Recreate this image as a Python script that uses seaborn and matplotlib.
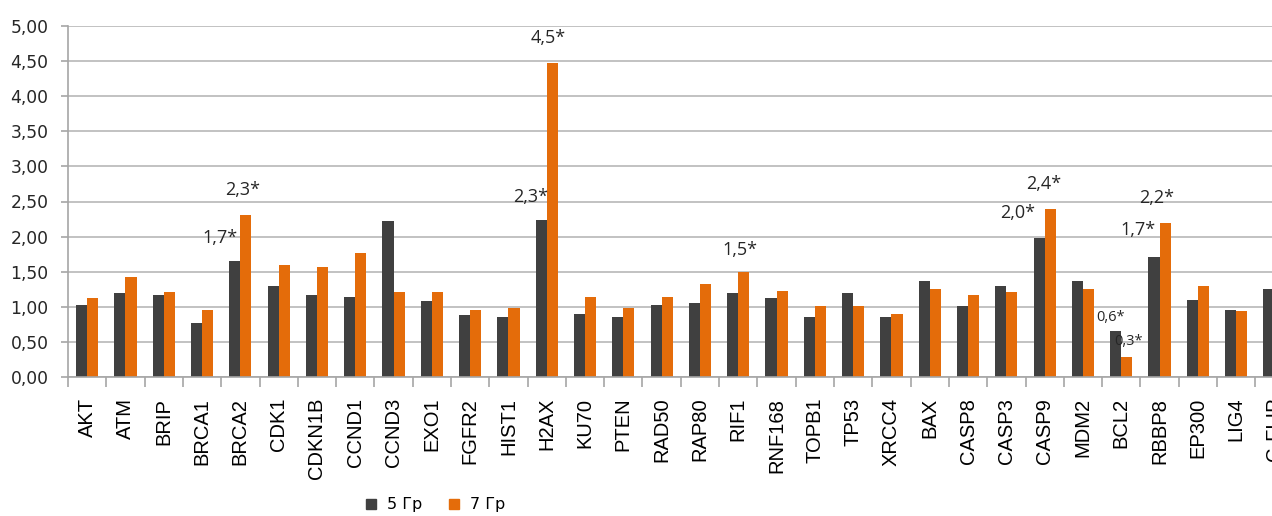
import numpy as np
import pandas as pd
import matplotlib
matplotlib.use("Agg")
import matplotlib.pyplot as plt
import seaborn as sns
from matplotlib.lines import Line2D

genes = ["AKT", "ATM", "BRIP", "BRCA1", "BRCA2", "CDK1", "CDKN1B", "CCND1", "CCND3",
         "EXO1", "FGFR2", "HIST1", "H2AX", "KU70", "PTEN", "RAD50", "RAP80", "RIF1",
         "RNF168", "TOPB1", "TP53", "XRCC4", "BAX", "CASP8", "CASP3", "CASP9", "MDM2",
         "BCL2", "RBBP8", "EP300", "LIG4", "C-FLIP"]
gy5 = [1.03, 1.19, 1.17, 0.77, 1.65, 1.30, 1.17, 1.14, 2.22,
       1.08, 0.88, 0.85, 2.24, 0.90, 0.86, 1.03, 1.05, 1.19,
       1.12, 0.86, 1.19, 0.85, 1.37, 1.01, 1.29, 1.98, 1.37,
       0.65, 1.71, 1.10, 0.95, 1.26]
gy7 = [1.12, 1.43, 1.21, 0.95, 2.31, 1.60, 1.56, 1.76, 1.21,
       1.21, 0.95, 0.99, 4.47, 1.14, 0.98, 1.14, 1.32, 1.49,
       1.23, 1.01, 1.01, 0.90, 1.25, 1.17, 1.21, 2.40, 1.25,
       0.29, 2.20, 1.29, 0.94, 0.79]
series = ["5 Гр", "7 Гр"]
y_ticks = [0, 0.5, 1, 1.5, 2, 2.5, 3, 3.5, 4, 4.5, 5]
# (gene, series index, text, dx px, dy px, small)
notes = [("BRCA2", 1, "2,3*", -3, 25, False), ("BRCA2", 0, "1,7*", -15, 23, False),
         ("H2AX", 1, "4,5*", -4, 25, False), ("H2AX", 0, "2,3*", -11, 23, False),
         ("RIF1", 1, "1,5*", -4, 22, False),
         ("CASP9", 1, "2,4*", -7, 25, False), ("CASP9", 0, "2,0*", -21, 25, False),
         ("BCL2", 0, "0,6*", -5, 14, True), ("BCL2", 1, "0,3*", 2, 15, True),
         ("RBBP8", 1, "2,2*", -8, 25, False), ("RBBP8", 0, "1,7*", -16, 27, False)]

dark = "#404040"
orange = "#E46C0A"
W, H = 1272, 516
n = len(genes)
step = 38.3

df = pd.DataFrame({"gene": genes * 2,
                   "group": [series[0]] * n + [series[1]] * n,
                   "value": gy5 + gy7})

fig = plt.figure(figsize=(W / 100, H / 100), dpi=100)
ax = fig.add_axes([68 / W, (H - 377) / H, n * step / W, 351 / H])

sns.barplot(data=df, x="gene", y="value", hue="group", order=genes, hue_order=series,
            palette=[dark, orange], width=0.58, saturation=1, linewidth=0,
            errorbar=None, legend=False, ax=ax)

ax.set_xlim(-0.5, n - 0.5)
ax.set_ylim(0, 5)
ax.set_xlabel("")
ax.set_ylabel("")
ax.set_yticks(y_ticks)
ax.set_yticklabels([f"{v:.2f}".replace(".", ",") for v in y_ticks],
                   fontfamily="DejaVu Sans", fontsize=12.3, color="#262626")
ax.set_xticks(range(n))
ax.set_xticklabels(genes, rotation=90, fontfamily="Liberation Sans", fontsize=14.5,
                   color="black", va="top", ha="center")
ax.tick_params(axis="x", which="major", length=0, pad=15)
ax.set_xticks(np.arange(-0.5, n, 1), minor=True)
ax.tick_params(axis="x", which="minor", length=7, width=1.2, color="#a6a6a6", direction="out")
ax.tick_params(axis="y", length=5, width=1.2, color="#a6a6a6", pad=9)

ax.yaxis.grid(True, color="#bdbdbd", lw=1.3)
ax.set_axisbelow(True)
for s in ["top", "right"]:
    ax.spines[s].set_visible(False)
for s in ["left", "bottom"]:
    ax.spines[s].set_color("#a6a6a6")
    ax.spines[s].set_linewidth(1.2)

for g, si, txt, dx, dy, small in notes:
    p = ax.patches[genes.index(g) + n * si]
    x = p.get_x() + p.get_width() / 2
    y = p.get_height()
    ax.annotate(txt, xy=(x, y), xytext=(dx * 0.72, dy * 0.72), textcoords="offset points",
                ha="center", va="center", fontfamily="Open Sans",
                fontsize=10.5 if small else 13, color="#262626")

handles = [Line2D([], [], marker="s", ls="", color=dark, markersize=7),
           Line2D([], [], marker="s", ls="", color=orange, markersize=7)]
fig.legend(handles, series, loc="center", bbox_to_anchor=(435 / W, 1 - 505 / H),
           ncol=2, frameon=False, prop={"family": "DejaVu Sans", "size": 11.5},
           handlelength=0.8, handletextpad=0.6, columnspacing=1.6)

fig.savefig("out.png", dpi=100)
